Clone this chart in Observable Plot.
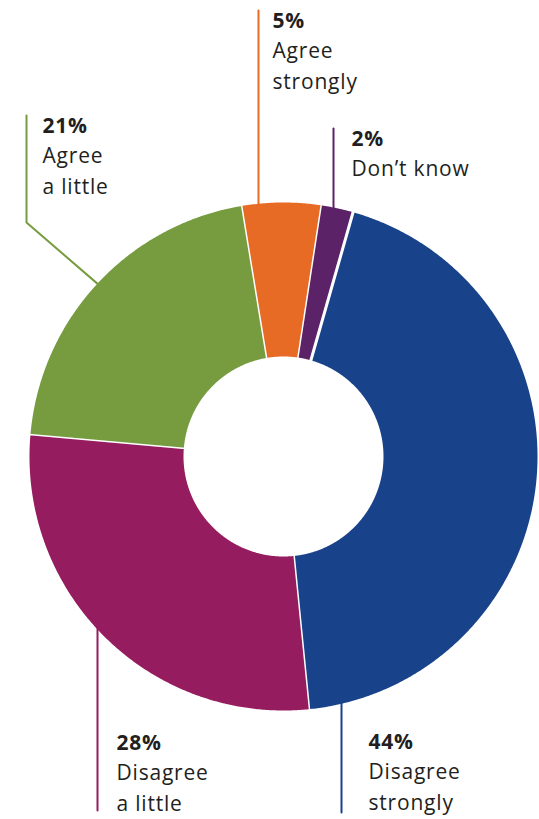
<!DOCTYPE html>
<html>
<head>
<meta charset="utf-8">
<script src="https://cdn.jsdelivr.net/npm/d3@7"></script>
<script src="https://cdn.jsdelivr.net/npm/@observablehq/plot@0.6"></script>
<style>
  html, body { margin: 0; padding: 0; background: #ffffff; }
  #chart svg { display: block; }
  #chart svg text { letter-spacing: 0.8px; }
</style>
</head>
<body>
<div id="chart"></div>
<script>
// ---- data ----
const categories = ["Disagree strongly", "Disagree a little", "Agree a little", "Agree strongly", "Don’t know"];
const values = [44, 28, 21, 5, 2];
const pctLabels = ["44%", "28%", "21%", "5%", "2%"];
const labelLines = [["Disagree", "strongly"], ["Disagree", "a little"], ["Agree", "a little"], ["Agree", "strongly"], ["Don’t know"]];
const colors = ["#18428a", "#951c5e", "#769c3f", "#e76a25", "#5c2268"];

// ---- layout ----
const W = 539, H = 819;
const cx = 283, cy = 456;
const R = 255.5, r0 = 98.5;
const startDeg = 15.9;
const fs = 21;
const lineStep = 30.5;
const textColor = "#231f20";
// label layout per category: leader x (or bend), leader end y, text x, first baseline
const labelLayout = [
  {leaderX: 341, leaderEnd: 812, side: "bottom", tx: 368, base: 748},
  {leaderX: 97,  leaderEnd: 810, side: "bottom", tx: 116, base: 749},
  {bend: [26, 222], leaderEnd: 115, side: "mid",  tx: 42,  base: 132},
  {leaderX: 258, leaderEnd: 10,  side: "top",    tx: 272, base: 27},
  {leaderX: 333, leaderEnd: 128, side: "top",    tx: 351, base: 145}
];

const pie = d3.pie().sort(null)
  .startAngle(startDeg * Math.PI / 180)
  .endAngle(startDeg * Math.PI / 180 + 2 * Math.PI)(values);

const px = (rad, a) => cx + rad * Math.sin(a);
const py = (rad, a) => cy - rad * Math.cos(a);

// slice polygons
const slicePts = [];
pie.forEach((s, i) => {
  const n = Math.max(4, Math.ceil((s.endAngle - s.startAngle) / (0.4 * Math.PI / 180)));
  for (let k = 0; k <= n; k++) {
    const a = s.startAngle + (s.endAngle - s.startAngle) * k / n;
    slicePts.push({cat: categories[i], x: px(R, a), y: py(R, a)});
  }
  for (let k = n; k >= 0; k--) {
    const a = s.startAngle + (s.endAngle - s.startAngle) * k / n;
    slicePts.push({cat: categories[i], x: px(r0, a), y: py(r0, a)});
  }
});

// leader lines
const Rl = R - 3;
const leaderPts = [];
labelLayout.forEach((L, i) => {
  const cat = categories[i];
  if (L.side === "mid") {
    const mid = (pie[i].startAngle + pie[i].endAngle) / 2;
    leaderPts.push({cat, x: px(Rl, mid), y: py(Rl, mid)});
    leaderPts.push({cat, x: L.bend[0], y: L.bend[1]});
    leaderPts.push({cat, x: L.bend[0], y: L.leaderEnd});
  } else {
    const dx = L.leaderX - cx;
    const h = Math.sqrt(Rl * Rl - dx * dx);
    const yArc = L.side === "top" ? cy - h : cy + h;
    leaderPts.push({cat, x: L.leaderX, y: yArc});
    leaderPts.push({cat, x: L.leaderX, y: L.leaderEnd});
  }
});

const pctRows = categories.map((c, i) => ({cat: c, text: pctLabels[i], x: labelLayout[i].tx, y: labelLayout[i].base - 0.71 * fs}));
const nameRows = [];
categories.forEach((c, i) => {
  labelLines[i].forEach((t, k) => {
    nameRows.push({cat: c, text: t, x: labelLayout[i].tx, y: labelLayout[i].base + lineStep * (k + 1) - 0.71 * fs});
  });
});

const chart = Plot.plot({
  width: W,
  height: H,
  margin: 0,
  x: {domain: [0, W], range: [0, W], axis: null},
  y: {domain: [0, H], range: [0, H], axis: null},
  color: {domain: categories, range: colors},
  style: {background: "#ffffff", fontFamily: "'Open Sans', Lato, sans-serif"},
  marks: [
    Plot.line(slicePts, {x: "x", y: "y", z: "cat", fill: "cat", stroke: "#ffffff", strokeWidth: 3, strokeLinejoin: "round", curve: "linear"}),
    Plot.line(leaderPts, {x: "x", y: "y", z: "cat", stroke: "cat", strokeWidth: 2, curve: "linear"}),
    Plot.text(pctRows, {x: "x", y: "y", text: "text", textAnchor: "start", lineAnchor: "top", fontSize: fs, fontWeight: 700, fill: textColor}),
    Plot.text(nameRows, {x: "x", y: "y", text: "text", textAnchor: "start", lineAnchor: "top", fontSize: fs, fill: textColor})
  ]
});
document.getElementById("chart").appendChild(chart);
</script>
</body>
</html>
